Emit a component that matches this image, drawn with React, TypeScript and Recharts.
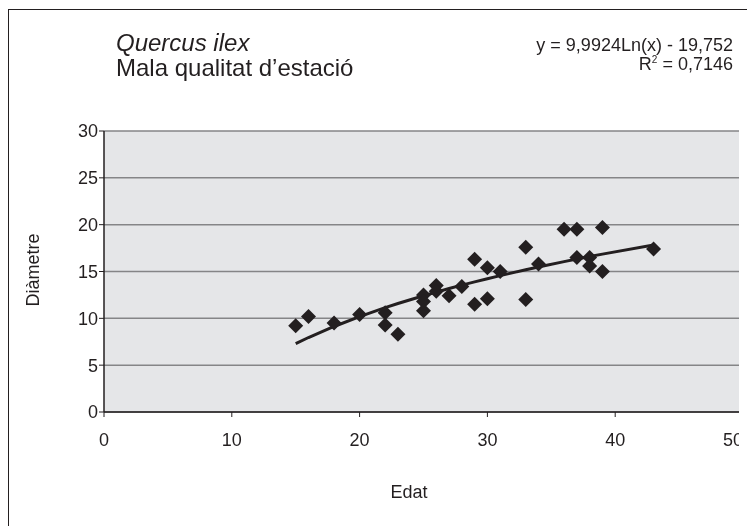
import React from 'react';
import {
  ComposedChart,
  Scatter,
  Line,
  XAxis,
  YAxis,
  CartesianGrid,
  ReferenceLine
} from 'recharts';

// Edat (anys) i diàmetre mesurat de cada peu
const ages = [15, 16, 18, 20, 22, 22, 23, 25, 25, 25, 26, 26, 27, 28, 29, 29, 30, 30, 31, 33, 33, 34, 36, 37, 37, 38, 38, 39, 39, 43];
const diameters = [9.2, 10.2, 9.5, 10.4, 10.6, 9.3, 8.3, 12.5, 11.8, 10.8, 13.5, 12.9, 12.4, 13.4, 16.3, 11.5, 15.4, 12.1, 15.0, 17.6, 12.0, 15.8, 19.5, 19.5, 16.5, 16.5, 15.6, 19.7, 15.0, 17.4];

const xTicks = [0, 10, 20, 30, 40, 50];
const yTicks = [0, 5, 10, 15, 20, 25, 30];

// coeficients de l'ajust logarítmic, els mateixos que mostra l'equació
const trendA = 9.9924;
const trendB = -19.752;
const trendR2 = '0,7146';

const points = ages.map((x, i) => ({ x, y: diameters[i] }));
const trend = Array.from(new Set(ages))
  .sort((a, b) => a - b)
  .map((x) => ({ x, y: trendA * Math.log(x) + trendB }));

const fmt = (v: number) => String(Math.abs(v)).replace('.', ',');

const INK = '#231f20';
const GRID = '#858587';
const FONT = '"Liberation Sans", Arial, Helvetica, sans-serif';
const X_MAX = xTicks[xTicks.length - 1];

function Diamond(props: any) {
  const { cx, cy } = props;
  const r = 7.5;
  return (
    <polygon
      points={`${cx},${cy - r} ${cx + r},${cy} ${cx},${cy + r} ${cx - r},${cy}`}
      fill={INK}
    />
  );
}

// l'última etiqueta queda arrambada dins el marc
function XTick(props: any) {
  const { x, y, payload } = props;
  const last = payload.value === X_MAX;
  return (
    <text
      x={last ? x + 4 : x}
      y={y}
      dy="0.71em"
      textAnchor={last ? 'end' : 'middle'}
      fill={INK}
      fontSize={18}
      fontFamily={FONT}
    >
      {payload.value}
    </text>
  );
}

export default function App() {
  return (
    <div
      style={{
        position: 'relative',
        width: 739,
        height: 505,
        fontFamily: FONT,
        color: INK
      }}
    >
      <div
        style={{
          position: 'fixed',
          left: 8,
          top: 9,
          width: 760,
          height: 540,
          borderLeft: `1.5px solid ${INK}`,
          borderTop: `1.5px solid ${INK}`,
          pointerEvents: 'none'
        }}
      />

      <div style={{ position: 'absolute', left: 108, top: 22, fontSize: 24, lineHeight: '25px' }}>
        <div style={{ fontStyle: 'italic' }}>Quercus ilex</div>
        <div>Mala qualitat d’estació</div>
      </div>

      <div
        style={{
          position: 'absolute',
          right: 14,
          top: 28,
          fontSize: 18,
          lineHeight: '19px',
          textAlign: 'right'
        }}
      >
        <div>y = {fmt(trendA)}Ln(x) - {fmt(trendB)}</div>
        <div>
          R<sup style={{ fontSize: 10, verticalAlign: 'top', lineHeight: '10px' }}>2</sup> = {trendR2}
        </div>
      </div>

      <div
        style={{
          position: 'absolute',
          left: 25 - 60,
          top: 262 - 11,
          width: 120,
          height: 22,
          lineHeight: '22px',
          fontSize: 18,
          textAlign: 'center',
          transform: 'rotate(-90deg)'
        }}
      >
        Diàmetre
      </div>

      <div
        style={{
          position: 'absolute',
          left: 341,
          top: 473,
          width: 120,
          fontSize: 18,
          lineHeight: '22px',
          textAlign: 'center'
        }}
      >
        Edat
      </div>

      <ComposedChart
        width={739}
        height={505}
        margin={{ top: 123, right: 4, bottom: 61, left: 0 }}
        style={{ position: 'absolute', left: 0, top: 0 }}
      >
        <CartesianGrid
          vertical={false}
          stroke={GRID}
          strokeWidth={1.5}
          fill="#e5e6e8"
        />
        <XAxis
          type="number"
          dataKey="x"
          domain={[0, X_MAX]}
          ticks={xTicks}
          allowDataOverflow
          height={40}
          axisLine={{ stroke: INK, strokeWidth: 1.5 }}
          tickLine={{ stroke: INK }}
          tickSize={5}
          tickMargin={16}
          tick={<XTick />}
        />
        <YAxis
          type="number"
          dataKey="y"
          domain={[0, 30]}
          ticks={yTicks}
          width={96}
          axisLine={{ stroke: INK, strokeWidth: 1.5 }}
          tickLine={{ stroke: INK }}
          tickSize={5}
          tickMargin={1}
          tick={{ fill: INK, fontSize: 18, fontFamily: FONT }}
        />
        <ReferenceLine x={X_MAX} stroke={GRID} strokeWidth={1.5} />
        <Line
          data={trend}
          dataKey="y"
          type="linear"
          stroke={INK}
          strokeWidth={3}
          dot={false}
          activeDot={false}
          isAnimationActive={false}
        />
        <Scatter
          data={points}
          dataKey="y"
          shape={<Diamond />}
          isAnimationActive={false}
        />
      </ComposedChart>
    </div>
  );
}
